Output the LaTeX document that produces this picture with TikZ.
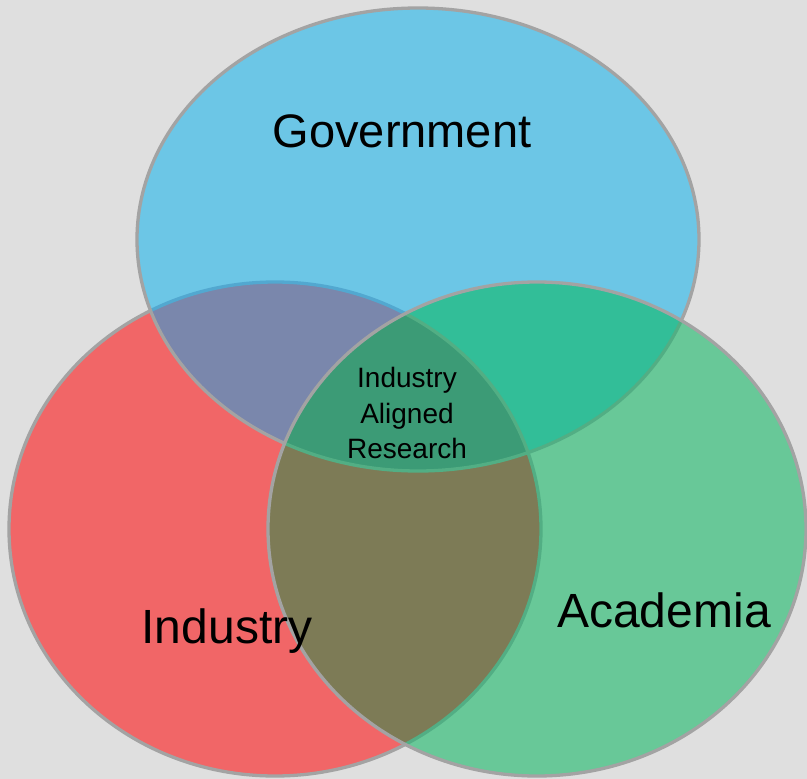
\documentclass[tikz,border=0pt]{standalone}
\usepackage{fontspec}
\setmainfont{Liberation Sans}
\definecolor{bgc}{HTML}{DFDFDF}
\definecolor{govc}{HTML}{6CC6E6}
\definecolor{indc}{HTML}{F16667}
\definecolor{acadc}{HTML}{68C898}
\definecolor{govindc}{HTML}{7A87AC}
\definecolor{govacadc}{HTML}{32BE98}
\definecolor{indacadc}{HTML}{7D7B56}
\definecolor{allc}{HTML}{3C9B76}
\definecolor{bdgray}{HTML}{A3A3A3}
\definecolor{bdblue}{HTML}{52A8D0}
\definecolor{bdgreen}{HTML}{52AE84}
\def\govpath{(418,239.5) ellipse [x radius=281, y radius=231.5]}
\def\indpath{(275,529) ellipse [x radius=266, y radius=247]}
\def\acadpath{(537,529) ellipse [x radius=269, y radius=247]}
\def\outerframe{(-5,-5) rectangle (812,784)}
\tikzset{
  bd/.style={line width=3.3pt},
  biglabel/.style={font=\fontsize{47}{56}\selectfont, anchor=base, inner sep=0pt},
  smalllabel/.style={font=\fontsize{28}{35.5}\selectfont, align=center, inner sep=0pt}
}
\begin{document}
\begin{tikzpicture}[x=1pt,y=-1pt]
\useasboundingbox (0,0) rectangle (807,779);
\fill[bgc] (0,0) rectangle (807,779);
% single regions
\fill[indc] \indpath;
\fill[govc] \govpath;
\fill[acadc] \acadpath;
% pairwise overlaps
\begin{scope}\clip \govpath; \fill[govindc] \indpath; \end{scope}
\begin{scope}\clip \govpath; \fill[govacadc] \acadpath; \end{scope}
\begin{scope}\clip \indpath; \fill[indacadc] \acadpath; \end{scope}
\begin{scope}\clip \govpath; \clip \indpath; \fill[allc] \acadpath; \end{scope}
% industry border
\begin{scope}[even odd rule]
  \clip \outerframe \govpath;
  \clip \outerframe \acadpath;
  \draw[bd, bdgray] \indpath;
\end{scope}
\begin{scope}[even odd rule]
  \clip \govpath;
  \clip \outerframe \acadpath;
  \draw[bd, bdblue] \indpath;
\end{scope}
\begin{scope}
  \clip \acadpath;
  \draw[bd, bdgreen] \indpath;
\end{scope}
% government border
\begin{scope}[even odd rule]
  \clip \outerframe \acadpath;
  \draw[bd, bdgray] \govpath;
\end{scope}
\begin{scope}
  \clip \acadpath;
  \draw[bd, bdgreen] \govpath;
\end{scope}
% academia border
\draw[bd, bdgray] \acadpath;
% labels
\node[biglabel] (govlabel) at (402,147) {Government};
\node[biglabel, font=\fontsize{48}{56}\selectfont] (indlabel) at (227,643) {Industry};
\node[biglabel, font=\fontsize{48}{56}\selectfont] (acadlabel) at (664,627) {Academia};
\node[smalllabel] (centerlabel) at (407,413) {Industry\\Aligned\\Research};
\end{tikzpicture}
\end{document}
